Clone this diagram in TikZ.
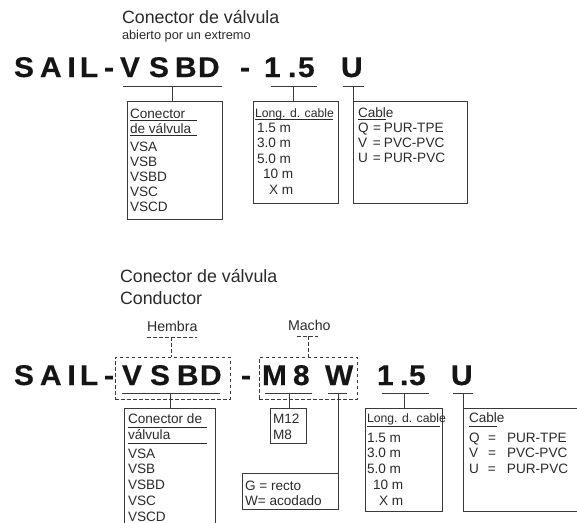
\documentclass[tikz,border=0pt]{standalone}
\usepackage{fontspec}
\newfontfamily\hv{Liberation Sans}
\newfontfamily\hvb{Liberation Sans}[FakeStretch=1.05,FakeBold=0.4]
\definecolor{ink}{HTML}{2A2A2A}
\definecolor{lin}{HTML}{3A3A3A}
\definecolor{hdc}{HTML}{151515}
\tikzset{
  base/.style={inner sep=0pt, outer sep=0pt, anchor=base west, text=ink},
  ttl/.style={base, font=\hv\fontsize{17.8}{17.8}\selectfont},
  sub/.style={base, font=\hv\fontsize{12.8}{12.8}\selectfont},
  lbl/.style={base, font=\hv\fontsize{14.2}{14.2}\selectfont},
  txt/.style={base, font=\hv\fontsize{13.6}{13.6}\selectfont},
  txs/.style={base, font=\hv\fontsize{12.2}{12.2}\selectfont},
  hd/.style={inner sep=0pt, outer sep=0pt, anchor=base west, text=hdc, font=\hvb\bfseries\fontsize{28.5}{28.5}\selectfont},
  boxx/.style={draw=lin, line width=0.9pt, inner sep=0pt, outer sep=0pt},
  ln/.style={draw=lin, line width=0.9pt},
  ul/.style={draw=ink, line width=0.7pt},
  dsh/.style={draw=lin, line width=0.9pt, dash pattern=on 3.5pt off 2.5pt},
}
\begin{document}
\begin{tikzpicture}[x=1pt,y=-1pt]
\useasboundingbox (0,0) rectangle (577,522);
\clip (0,0) rectangle (577,522);
% ---------------- top section ----------------
\node[ttl] (tt1) at (122,23) {Conector de válvula};
\node[sub] (tt2) at (122,39) {abierto por un extremo};
% heading
\foreach \x/\c [count=\i] in {14/S,40/A,67.5/I,80/L,104/-,120/V,149/S,175/B,198/D,240/-,264/1,288/.,298/5,341/U}
  \node[hd] (ha\i) at (\x,77) {\c};
% underlines and connectors
\coordinate (u1a) at (123,86); \coordinate (u1b) at (222,86); \coordinate (u1m) at (172,86);
\coordinate (u2a) at (271,86); \coordinate (u2b) at (317,86); \coordinate (u2m) at (293,86);
\coordinate (u3a) at (343,86); \coordinate (u3b) at (364,86); \coordinate (u3m) at (353,86);
\draw[ln] (u1a) -- (u1b);
\draw[ln] (u2a) -- (u2b);
\draw[ln] (u3a) -- (u3b);
\node[boxx, anchor=north west, minimum width=95pt, minimum height=118pt] (b1) at (127,101) {};
\node[boxx, anchor=north west, minimum width=85pt, minimum height=102pt] (b2) at (253,101) {};
\node[boxx, anchor=north west, minimum width=114pt, minimum height=102pt] (b3) at (353,101) {};
\draw[ln] (u1m) -- (b1.north -| u1m);
\draw[ln] (u2m) -- (b2.north -| u2m);
\draw[ln] (u3m) -- (b3.north west);
% box 1 text
\node[txt] (a1) at (130,118) {Conector};
\node[txt] (a2) at (130,133) {de válvula};
\draw[ul] (130,120.5) -- (197,120.5);
\draw[ul] (130,135.5) -- (197,135.5);
\node[txt] (a3) at (130,151) {VSA};
\node[txt] (a4) at (130,166) {VSB};
\node[txt] (a5) at (130,181) {VSBD};
\node[txt] (a6) at (130,196) {VSC};
\node[txt] (a7) at (130,211) {VSCD};
% box 2 text
\node[txs] (c1) at (255,117) {Long. d. cable};
\draw[ul] (255,119.5) -- (333,119.5);
\node[txt] (c2) at (257,132) {1.5 m};
\node[txt] (c3) at (257,147.5) {3.0 m};
\node[txt] (c4) at (257,163) {5.0 m};
\node[txt] (c5) at (263,178.5) {10 m};
\node[txt] (c6) at (269,194) {X m};
% box 3 text
\node[txt] (d1) at (358,117) {Cable};
\draw[ul] (358,119.5) -- (386,119.5);
\node[txt] (d2) at (358,132) {\makebox[15pt][l]{Q}\makebox[11pt][l]{=}PUR-TPE};
\node[txt] (d3) at (358,147) {\makebox[15pt][l]{V}\makebox[11pt][l]{=}PVC-PVC};
\node[txt] (d4) at (358,162) {\makebox[15pt][l]{U}\makebox[11pt][l]{=}PUR-PVC};
% ---------------- bottom section ----------------
\node[ttl] (tb1) at (120,282) {Conector de válvula};
\node[ttl] (tb2) at (120,304) {Conductor};
\node[lbl] (hem) at (147,331) {Hembra};
\node[lbl] (mac) at (288,330) {Macho};
\foreach \x/\c [count=\i] in {14/S,40/A,67.5/I,80/L,104/-,122/V,150/S,177/B,200/D,241/-,262/M,293/8,325/W,377/1,400/.,409/5,451/U}
  \node[hd] (hb\i) at (\x,385) {\c};
% dashed frames
\node[dsh, inner sep=0pt, outer sep=0pt, anchor=north west, minimum width=115pt, minimum height=42pt] (fa) at (115,357) {};
\node[dsh, inner sep=0pt, outer sep=0pt, anchor=north west, minimum width=98pt, minimum height=42pt] (fb) at (259,357) {};
\coordinate (hea) at (147,337); \coordinate (heb) at (197,337); \coordinate (hec) at (171,337);
\coordinate (maa) at (297,336); \coordinate (mab) at (318,336); \coordinate (mam) at (308,336);
\draw[dsh] (hea) -- (heb);
\draw[dsh] (maa) -- (mab);
\draw[dsh] (hec) -- (fa.north -| hec);
\draw[dsh] (mam) -- (fb.north -| mam);
% underlines
\coordinate (v1a) at (122,393); \coordinate (v1b) at (220,393); \coordinate (v1m) at (170,393);
\coordinate (v2a) at (265,393); \coordinate (v2b) at (312,393); \coordinate (v2m) at (289,393);
\coordinate (v3a) at (328,393); \coordinate (v3b) at (347,393); \coordinate (v3m) at (338,393);
\coordinate (v4a) at (382,393); \coordinate (v4b) at (429,393); \coordinate (v4m) at (404,393);
\coordinate (v5a) at (453,393); \coordinate (v5b) at (473,393); \coordinate (v5m) at (463,393);
\foreach \k in {1,...,5} \draw[ln] (v\k a) -- (v\k b);
% boxes
\node[boxx, anchor=north west, minimum width=91pt, minimum height=132pt] (e1) at (124,408) {};
\node[boxx, anchor=north west, minimum width=36pt, minimum height=35pt] (e2) at (270,408) {};
\node[boxx, anchor=north west, minimum width=96pt, minimum height=36pt] (e3) at (242,473) {};
\node[boxx, anchor=north west, minimum width=77pt, minimum height=103pt] (e4) at (365,408) {};
\node[boxx, anchor=north west, minimum width=140pt, minimum height=103pt] (e5) at (463,408) {};
\draw[ln] (v1m) -- (e1.north -| v1m);
\draw[ln] (v2m) -- (e2.north -| v2m);
\draw[ln] (v3m) -- (e3.north east);
\draw[ln] (v4m) -- (e4.north -| v4m);
\draw[ln] (v5m) -- (e5.north west);
% box texts
\node[txt] (f1) at (128,423) {Conector de};
\draw[ul] (128,427) -- (207,427);
\node[txt] (f2) at (128,439) {válvula};
\draw[ul] (128,443) -- (207,443);
\node[txt] (f3) at (128,458) {VSA};
\node[txt] (f4) at (128,473.5) {VSB};
\node[txt] (f5) at (128,489.5) {VSBD};
\node[txt] (f6) at (128,505) {VSC};
\node[txt] (f7) at (128,521) {VSCD};
\node[txt] (g1) at (273,423) {M12};
\node[txt] (g2) at (273,439) {M8};
\node[txt] (g3) at (245,490) {G = recto};
\node[txt] (g4) at (245,505) {W= acodado};
\node[txs] (k1) at (367,422) {Long. d. cable};
\draw[ul] (367,426) -- (440,426);
\node[txt] (k2) at (367,442) {1.5 m};
\node[txt] (k3) at (367,457.5) {3.0 m};
\node[txt] (k4) at (367,473) {5.0 m};
\node[txt] (k5) at (373,489) {10 m};
\node[txt] (k6) at (379,505) {X m};
\node[txt] (m1) at (469,422) {Cable};
\draw[ul] (469,426) -- (497,426);
\node[txt] (m2) at (469,442) {\makebox[19pt][l]{Q}\makebox[19pt][l]{=}PUR-TPE};
\node[txt] (m3) at (469,457) {\makebox[19pt][l]{V}\makebox[19pt][l]{=}PVC-PVC};
\node[txt] (m4) at (469,473) {\makebox[19pt][l]{U}\makebox[19pt][l]{=}PUR-PVC};
\end{tikzpicture}
\end{document}
